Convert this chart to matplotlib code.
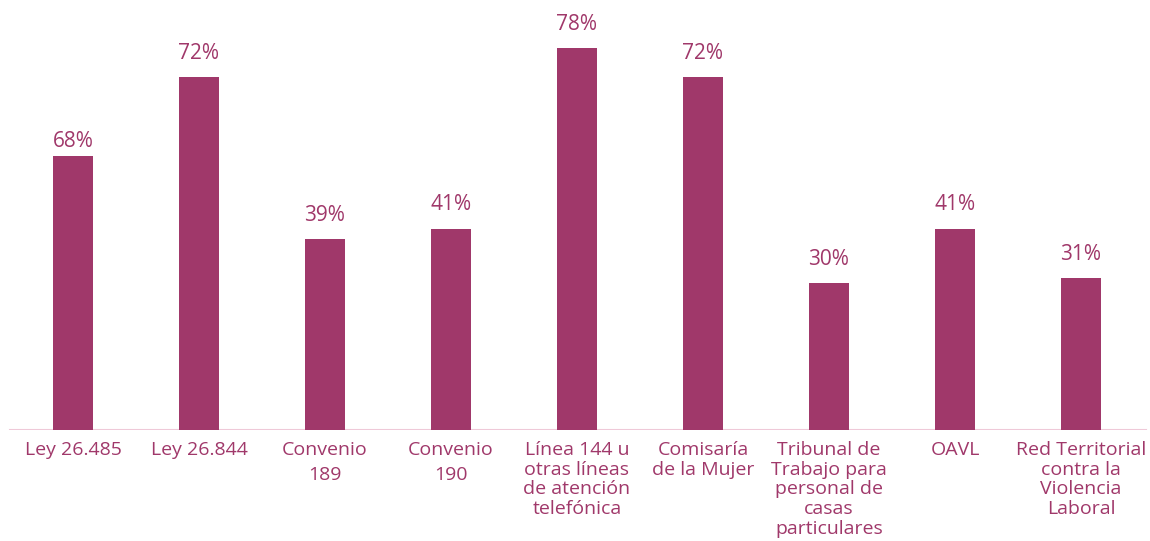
import matplotlib.pyplot as plt

plt.rcParams['font.family'] = ['Open Sans', 'DejaVu Sans']

categories = [
    "Ley 26.485",
    "Ley 26.844",
    "Convenio\n189",
    "Convenio\n190",
    "Línea 144 u\notras líneas\nde atención\ntelefónica",
    "Comisaría\nde la Mujer",
    "Tribunal de\nTrabajo para\npersonal de\ncasas\nparticulares",
    "OAVL",
    "Red Territorial\ncontra la\nViolencia\nLaboral",
]
# bar heights as drawn in the picture (the first bar is drawn shorter than its label)
heights = [56, 72, 39, 41, 78, 72, 30, 41, 31]
value_labels = ["68%", "72%", "39%", "41%", "78%", "72%", "30%", "41%", "31%"]

bar_color = "#A0386A"
text_color = "#A0386A"
# gap (points) between bar top and label baseline; the first label sits lower
label_gap = [6.5, 13, 13, 14, 13, 13, 13, 14, 13]

fig = plt.figure(figsize=(11.5, 5.41), dpi=100)
ax = fig.add_axes([0, 0.2052, 1, 0.7874])

x = list(range(len(categories)))
ax.bar(x, heights, width=0.32, color=bar_color)

for xi, h, lab, g in zip(x, heights, value_labels, label_gap):
    ax.annotate(lab, (xi, h), xytext=(0, g), textcoords="offset points",
                ha="center", va="baseline", fontsize=15, color=text_color)

ax.set_xlim(-0.579, 8.548)
ax.set_ylim(0, 87)
ax.axhline(0, xmin=0.0087, xmax=0.9965, color="#EFC9D8", lw=1.5, zorder=0)

ax.set_xticks(x)
ax.set_xticklabels(categories, fontsize=14, color=text_color)
for t in ax.get_xticklabels():
    if t.get_text().startswith("Convenio"):
        t.set_linespacing(1.5)
    else:
        t.set_linespacing(1.12)
ax.tick_params(axis="x", length=0, pad=8)
ax.set_yticks([])
for s in ax.spines.values():
    s.set_visible(False)

fig.savefig("out.png", dpi=100)
